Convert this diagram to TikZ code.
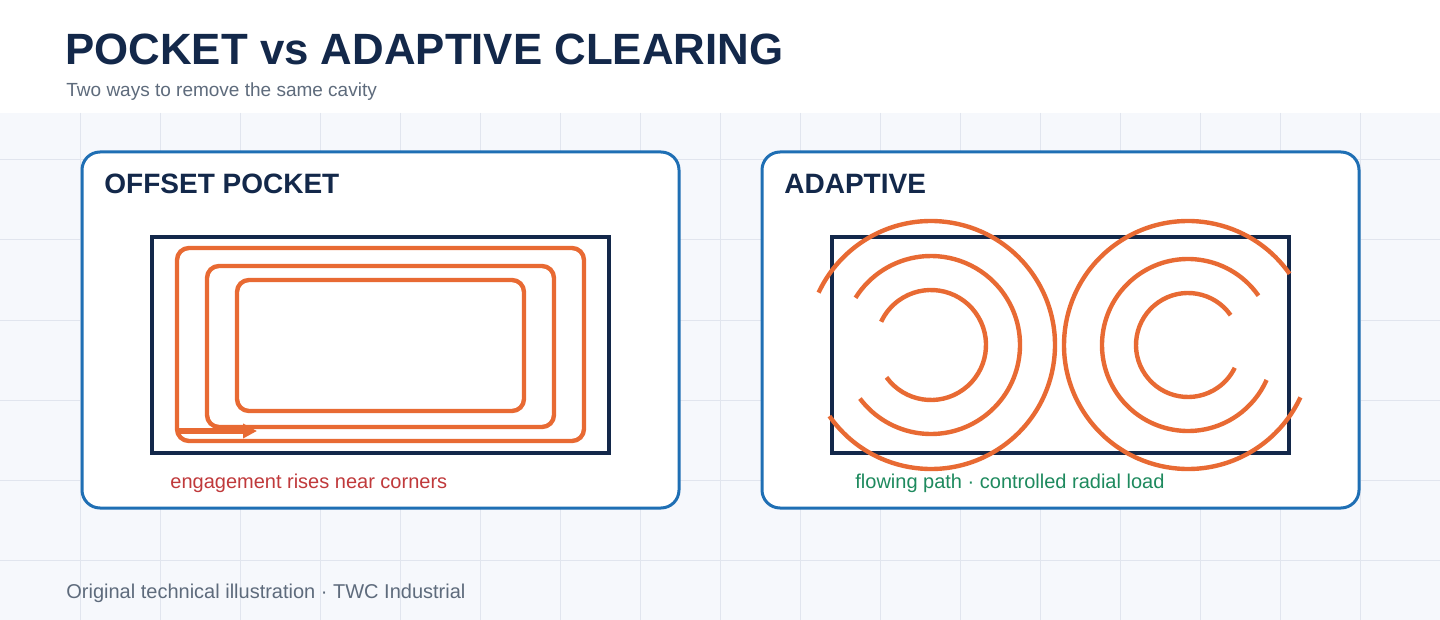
\documentclass[tikz,border=0pt]{standalone}
\usepackage{fontspec}
\setmainfont{Liberation Sans}
\usetikzlibrary{arrows.meta}
\definecolor{ink}{HTML}{13284A}
\definecolor{tool}{HTML}{E86A33}
\definecolor{panelblue}{HTML}{1F6FB4}
\definecolor{muted}{HTML}{5E6B7C}
\definecolor{warn}{HTML}{C0393B}
\definecolor{good}{HTML}{1E8A5E}
\definecolor{paper}{HTML}{F6F8FC}
\definecolor{gridc}{HTML}{E1E5EE}
\begin{document}
\begin{tikzpicture}[x=0.5pt,y=-0.5pt,
    panel/.style={draw=panelblue,line width=1.5pt,fill=white,rounded corners=9pt},
    stock/.style={draw=ink,line width=2pt},
    path/.style={draw=tool,line width=2.2pt,rounded corners=6pt},
    arcpath/.style={draw=tool,line width=2.2pt},
    head/.style={anchor=base west,font=\bfseries\fontsize{14}{16}\selectfont,text=ink,inner sep=0},
    note/.style={anchor=base west,font=\fontsize{10}{12}\selectfont,inner sep=0}]
\useasboundingbox (0,0) rectangle (1440,620);
\fill[white] (0,0) rectangle (1440,620);
\fill[paper] (0,113) rectangle (1440,620);
% grid
\foreach \gx in {80,160,...,1400} \draw[gridc,line width=0.5pt] (\gx,113) -- (\gx,620);
\foreach \gy in {160,240,...,600} \draw[gridc,line width=0.5pt] (0,\gy) -- (1440,\gy);
% header
\node[anchor=base west,inner sep=0,font=\bfseries\fontsize{21.9}{26}\selectfont,text=ink] (title) at (65,65) {POCKET vs ADAPTIVE CLEARING};
\node[anchor=base west,inner sep=0,font=\fontsize{9.5}{11}\selectfont,text=muted] (subtitle) at (66,97) {Two ways to remove the same cavity};
% offset pocket
\draw[panel] (82,152) rectangle (679,508);
\node[head] (pockethead) at (104,194) {OFFSET POCKET};
\draw[stock] (152,237) rectangle (609,453);
\draw[path] (177,248) rectangle (584,441);
\draw[path] (207,266) rectangle (554,427);
\draw[path] (237,280) rectangle (524,411);
\coordinate (startpt) at (177,431);
\coordinate (endpt) at (257,431);
\draw[tool,line width=3pt,-{Triangle[length=7pt,width=7pt]}] (startpt) -- (endpt);
\node[note,text=warn] (pocketnote) at (170,488) {engagement rises near corners};
% adaptive
\draw[panel] (762,152) rectangle (1359,508);
\node[head] (adaptivehead) at (784,194) {ADAPTIVE};
\draw[stock] (832,237) rectangle (1289,453);
\coordinate (lc) at (931,345);
\coordinate (rc) at (1188,345);
\foreach \r/\a/\b in {55/144/-155,89/143/-148,124/145/-155}
  \draw[arcpath] (lc) ++(\a:\r) arc[start angle=\a,end angle=\b,radius=\r];
\foreach \r/\a/\b in {52/-35/-334,86/-35/-336,124/-35/-335}
  \draw[arcpath] (rc) ++(\a:\r) arc[start angle=\a,end angle=\b,radius=\r];
\node[note,text=good] (adaptivenote) at (855,488) {flowing path · controlled radial load};
% footer
\node[note,text=muted] (footer) at (66,598) {Original technical illustration · TWC Industrial};
\end{tikzpicture}
\end{document}
